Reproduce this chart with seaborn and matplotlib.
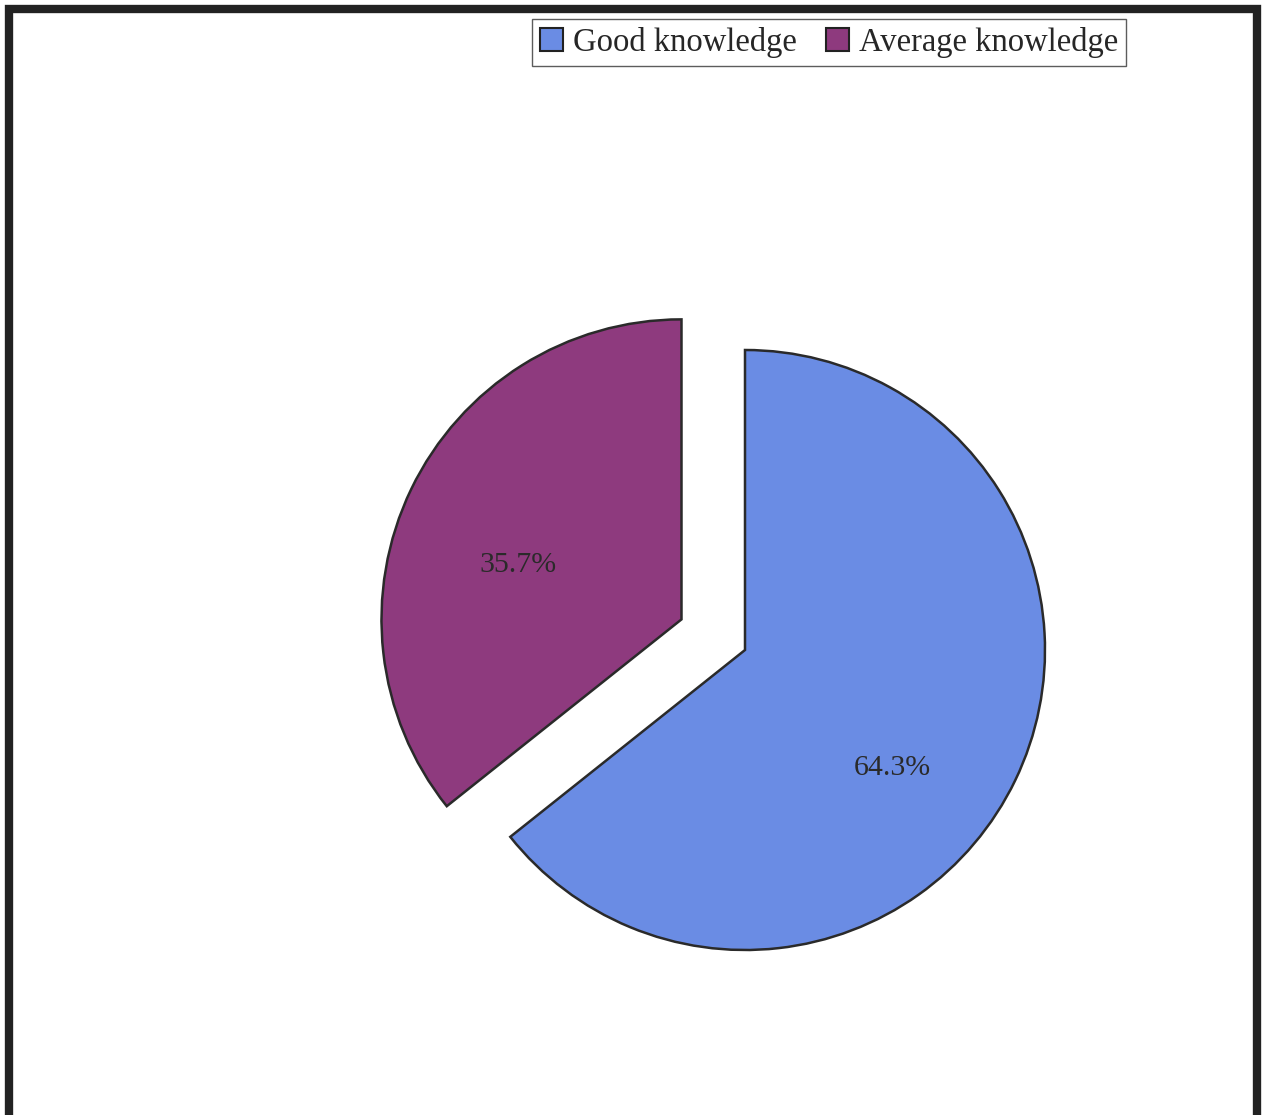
import matplotlib
matplotlib.use("Agg")
import matplotlib.pyplot as plt
import seaborn as sns
from matplotlib.patches import Rectangle

# data
labels = ["Good knowledge", "Average knowledge"]
shares = [64.3, 35.7]
explode = [0, 0.235]
colors = ["#6a8ce4", "#8e3a7e"]

sns.set_style("white")
plt.rcParams["font.family"] = ["Liberation Serif", "DejaVu Serif"]

fig = plt.figure(figsize=(12.65, 11.15), dpi=100)
ax = fig.add_axes([0, 0, 1, 1])

wedges, texts, autotexts = ax.pie(
    shares,
    explode=explode,
    colors=colors,
    startangle=90,
    counterclock=False,
    radius=1.0,
    autopct="%.1f%%",
    pctdistance=0.62,
    wedgeprops=dict(edgecolor="#2a2a2a", linewidth=1.8),
    textprops=dict(fontsize=21.5, color="#2a2a2a"),
)

# nudge the percent labels to where the original puts them (Excel style placement)
nudges = [(-20 / 300, -37 / 300), (4 / 300, -26 / 300)]
for t, (dx, dy) in zip(autotexts, nudges):
    x, y = t.get_position()
    t.set_position((x + dx, y + dy))

# pie radius = 300 px, blue centre at (745, 650) from top-left
ax.set_xlim(-745 / 300, (1265 - 745) / 300)
ax.set_ylim(-(1115 - 650) / 300, 650 / 300)
ax.set_aspect("equal")
ax.axis("off")

leg = ax.legend(
    wedges, labels,
    loc="upper right",
    bbox_to_anchor=(1126 / 1265, 1 - 19 / 1115),
    bbox_transform=fig.transFigure,
    ncol=2,
    fontsize=23.5,
    frameon=True,
    fancybox=False,
    edgecolor="#333333",
    handlelength=0.7,
    handleheight=0.7,
    handletextpad=0.3,
    columnspacing=0.9,
    borderpad=0.25,
    borderaxespad=0,
)
leg.get_frame().set_linewidth(1.0)
for h in leg.legend_handles:
    h.set_edgecolor("#222222")
    h.set_linewidth(1.5)

# outer black frame
fig.patches.append(Rectangle((8.5 / 1265, -0.02), (1256.5 - 8.5) / 1265, 1.02 - 8.5 / 1115,
                             transform=fig.transFigure, fill=False,
                             edgecolor="#222222", linewidth=6))

fig.savefig("out.png", dpi=100)
